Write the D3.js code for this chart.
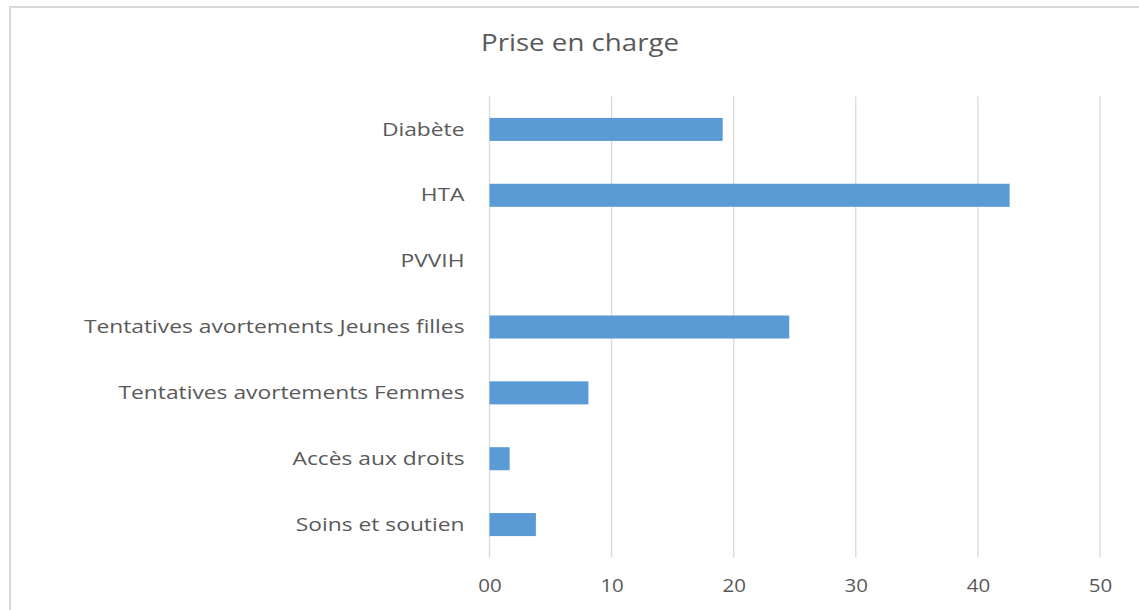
<!DOCTYPE html>
<html>
<head>
<meta charset="utf-8">
<script src="https://cdn.jsdelivr.net/npm/d3@7"></script>
<style>
  html, body { margin: 0; padding: 0; background: #fff; }
  svg { display: block; }
</style>
</head>
<body>
<svg id="chart" width="1139" height="610"></svg>
<script>
const title = "Prise en charge";
const categories = [
  "Diabète",
  "HTA",
  "PVVIH",
  "Tentatives avortements Jeunes filles",
  "Tentatives avortements Femmes",
  "Accès aux droits",
  "Soins et soutien"
];
const values = [19.1, 42.6, 0, 24.55, 8.1, 1.65, 3.8];
const tickValues = [0, 10, 20, 30, 40, 50];
const tickLabels = ["00", "10", "20", "30", "40", "50"];

const svg = d3.select("#chart");
const W = 1139, H = 610;
const margin = { left: 489.5, right: 39, top: 96.5, bottom: 52.5 };
const font = "'Open Sans', sans-serif";
const textColor = "#595959";

// chart border
svg.append("rect")
  .attr("x", 10).attr("y", 7)
  .attr("width", W + 20).attr("height", H + 20)
  .attr("fill", "#fff")
  .attr("stroke", "#d9d9d9")
  .attr("stroke-width", 2);

const x = d3.scaleLinear().domain([0, 50]).range([margin.left, W - margin.right]);
const y = d3.scaleBand().domain(categories)
  .range([margin.top, H - margin.bottom])
  .paddingInner(0.65).paddingOuter(0.325);

// gridlines
svg.append("g")
  .selectAll("line")
  .data(tickValues)
  .join("line")
  .attr("x1", d => x(d)).attr("x2", d => x(d))
  .attr("y1", margin.top).attr("y2", H - margin.bottom)
  .attr("stroke", "#d9d9d9")
  .attr("stroke-width", 1.3);

// bars
svg.append("g")
  .selectAll("rect")
  .data(categories.map((c, i) => ({ c, v: values[i] })))
  .join("rect")
  .attr("x", x(0))
  .attr("y", d => y(d.c))
  .attr("width", d => x(d.v) - x(0))
  .attr("height", y.bandwidth())
  .attr("fill", "#5b9bd5");

// x axis
const xAxis = d3.axisBottom(x)
  .tickValues(tickValues)
  .tickFormat((d, i) => tickLabels[i])
  .tickSize(0)
  .tickPadding(0);
const gx = svg.append("g")
  .attr("transform", `translate(0, ${H - margin.bottom})`)
  .call(xAxis);
gx.select(".domain").remove();
gx.selectAll("text")
  .attr("dy", null)
  .attr("y", 35)
  .attr("font-family", font)
  .attr("font-size", 19)
  .attr("fill", textColor)
  .attr("transform", function() {
    return null;
  });
gx.selectAll(".tick text").each(function() {
  d3.select(this).attr("transform", "scale(1.08,1)");
});

// y axis
const yAxis = d3.axisLeft(y).tickSize(0).tickPadding(0);
const gy = svg.append("g")
  .attr("transform", `translate(${margin.left - 25}, 0)`)
  .call(yAxis);
gy.select(".domain").remove();
gy.selectAll("text")
  .attr("font-family", font)
  .attr("font-size", 19)
  .attr("fill", textColor)
  .attr("transform", "scale(1.2,1)");

// title
svg.append("text")
  .attr("transform", "translate(580,51) scale(1.13,1)")
  .attr("text-anchor", "middle")
  .attr("font-family", font)
  .attr("font-size", 24.5)
  .attr("fill", textColor)
  .text(title);
</script>
</body>
</html>
